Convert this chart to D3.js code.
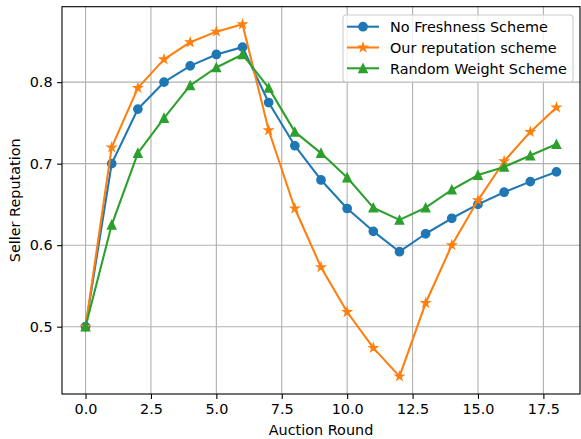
<!DOCTYPE html>
<head>
  <meta charset="utf-8">
  <script src="https://d3js.org/d3.v7.min.js"></script>
  <style>
    body { margin:0; background:#fff; }
    svg { display:block; font-family:"DejaVu Sans", sans-serif; }
  </style>
</head>
<body>
  <script>
    var width = 581,
        height = 439;

    // data
    var rounds = d3.range(0, 19);
    var noFreshness = [0.500, 0.700, 0.767, 0.800, 0.820, 0.834, 0.843, 0.775, 0.722, 0.680,
                       0.645, 0.617, 0.592, 0.614, 0.633, 0.650, 0.665, 0.678, 0.690];
    var ourScheme   = [0.500, 0.720, 0.793, 0.828, 0.849, 0.862, 0.871, 0.741, 0.645, 0.573,
                       0.518, 0.474, 0.439, 0.529, 0.600, 0.655, 0.703, 0.739, 0.769];
    var randomWeight = [0.500, 0.625, 0.713, 0.756, 0.796, 0.818, 0.834, 0.793, 0.739, 0.713,
                        0.683, 0.646, 0.631, 0.646, 0.668, 0.686, 0.696, 0.710, 0.724];
    var xTicks = [0, 2.5, 5, 7.5, 10, 12.5, 15, 17.5];
    var yTicks = [0.5, 0.6, 0.7, 0.8];

    var series = [
      { name: "No Freshness Scheme", values: noFreshness, color: "#1f77b4", marker: "circle" },
      { name: "Our reputation scheme", values: ourScheme, color: "#ff7f0e", marker: "star" },
      { name: "Random Weight Scheme", values: randomWeight, color: "#2ca02c", marker: "triangle" }
    ];

    var fs = 14.4;
    var margin = { left: 62, top: 6.7, right: 1, bottom: 45 };

    var svg = d3.select("body").append("svg")
      .attr("width", width)
      .attr("height", height);

    // matplotlib-ish 5% margins
    var xExt = d3.extent(rounds);
    var xPad = (xExt[1] - xExt[0]) * 0.05;
    var allVals = [].concat(noFreshness, ourScheme, randomWeight);
    var yExt = d3.extent(allVals);
    var yPad = (yExt[1] - yExt[0]) * 0.05;

    var x = d3.scaleLinear()
      .domain([xExt[0] - xPad, xExt[1] + xPad])
      .range([margin.left, width - margin.right]);
    var y = d3.scaleLinear()
      .domain([yExt[0] - yPad, yExt[1] + yPad])
      .range([height - margin.bottom, margin.top]);

    // grid
    svg.append("g").selectAll("line.gx")
      .data(xTicks).enter().append("line")
      .attr("x1", function(d) { return x(d); }).attr("x2", function(d) { return x(d); })
      .attr("y1", y.range()[0]).attr("y2", y.range()[1])
      .attr("stroke", "#b0b0b0").attr("stroke-width", 1.1);
    svg.append("g").selectAll("line.gy")
      .data(yTicks).enter().append("line")
      .attr("y1", function(d) { return y(d); }).attr("y2", function(d) { return y(d); })
      .attr("x1", x.range()[0]).attr("x2", x.range()[1])
      .attr("stroke", "#b0b0b0").attr("stroke-width", 1.1);

    // markers
    function markerPath(type, r) {
      if (type == "circle") {
        return d3.symbol().type(d3.symbolCircle).size(Math.PI * r * r)();
      }
      if (type == "triangle") {
        return "M0," + (-r) + "L" + r + "," + r + "L" + (-r) + "," + r + "Z";
      }
      // five-point star like matplotlib '*'
      var pts = [], inner = r * 0.381966;
      for (var i = 0; i < 10; i++) {
        var rr = i % 2 ? inner : r;
        var a = -Math.PI / 2 + i * Math.PI / 5;
        pts.push([rr * Math.cos(a), rr * Math.sin(a)]);
      }
      return "M" + pts.join("L") + "Z";
    }

    var line = d3.line()
      .x(function(d, i) { return x(rounds[i]); })
      .y(function(d) { return y(d); });

    series.forEach(function(s) {
      var g = svg.append("g");
      g.append("path")
        .attr("d", line(s.values))
        .attr("fill", "none")
        .attr("stroke", s.color)
        .attr("stroke-width", 2.08)
        .attr("stroke-linejoin", "round")
        .attr("stroke-linecap", "square");
      g.selectAll("path.m")
        .data(s.values).enter().append("path")
        .attr("class", "m")
        .attr("transform", function(d, i) { return "translate(" + x(rounds[i]) + "," + y(d) + ")"; })
        .attr("d", markerPath(s.marker, 4.17))
        .attr("fill", s.color)
        .attr("stroke", s.color)
        .attr("stroke-width", 1.39)
        .attr("stroke-linejoin", "miter");
    });

    // axes
    var xAxis = d3.axisBottom(x).tickValues(xTicks).tickFormat(d3.format(".1f"))
      .tickSizeInner(4.9).tickSizeOuter(0).tickPadding(4.5);
    var yAxis = d3.axisLeft(y).tickValues(yTicks).tickFormat(d3.format(".1f"))
      .tickSizeInner(4.9).tickSizeOuter(0).tickPadding(4.5);

    var gx = svg.append("g")
      .attr("transform", "translate(0," + y.range()[0] + ")")
      .call(xAxis);
    var gy = svg.append("g")
      .attr("transform", "translate(" + x.range()[0] + ",0)")
      .call(yAxis);
    [gx, gy].forEach(function(g) {
      g.select(".domain").remove();
      g.selectAll("line").attr("stroke", "#000").attr("stroke-width", 1.1);
      g.selectAll("text").attr("font-size", fs).attr("fill", "#000")
        .attr("font-family", "DejaVu Sans");
    });

    // frame
    svg.append("rect")
      .attr("x", x.range()[0]).attr("y", y.range()[1])
      .attr("width", x.range()[1] - x.range()[0])
      .attr("height", y.range()[0] - y.range()[1])
      .attr("fill", "none").attr("stroke", "#000").attr("stroke-width", 1.1);

    svg.append("text")
      .attr("x", (x.range()[0] + x.range()[1]) / 2)
      .attr("y", 435)
      .attr("text-anchor", "middle")
      .attr("font-size", fs)
      .text("Auction Round");
    svg.append("text")
      .attr("transform", "translate(20," + (y.range()[0] + y.range()[1]) / 2 + ") rotate(-90)")
      .attr("text-anchor", "middle")
      .attr("font-size", fs)
      .text("Seller Reputation");

    // legend
    var legend = svg.append("g").attr("transform", "translate(343,15)");
    legend.append("rect")
      .attr("width", 230).attr("height", 67)
      .attr("rx", 3)
      .attr("fill", "#fff").attr("fill-opacity", 0.8)
      .attr("stroke", "#cccccc").attr("stroke-width", 1.1);
    series.forEach(function(s, i) {
      var row = legend.append("g").attr("transform", "translate(0," + (11.7 + i * 20.8) + ")");
      row.append("line")
        .attr("x1", 4).attr("x2", 36)
        .attr("stroke", s.color).attr("stroke-width", 2.08);
      row.append("path")
        .attr("transform", "translate(20,0)")
        .attr("d", markerPath(s.marker, 4.17))
        .attr("fill", s.color).attr("stroke", s.color).attr("stroke-width", 1.39);
      row.append("text")
        .attr("x", 47).attr("y", 5.2)
        .attr("font-size", fs)
        .text(s.name);
    });
  </script>
</body>
